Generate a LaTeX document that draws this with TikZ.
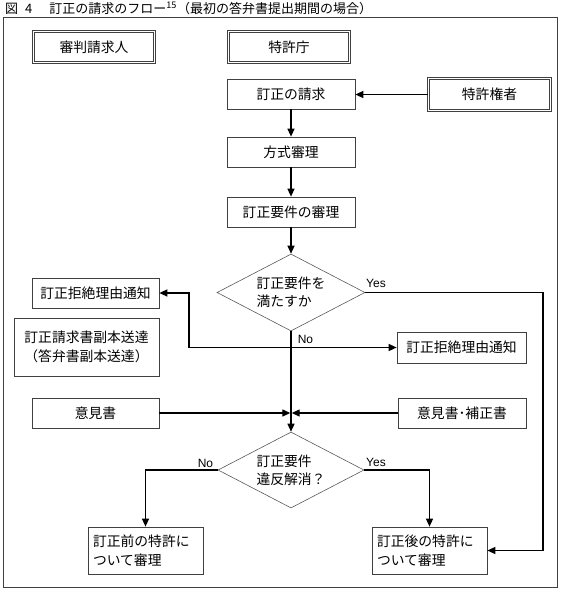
\documentclass[tikz,border=0pt]{standalone}
\usepackage{fontspec}
\setmainfont{Noto Sans CJK JP}
\newfontfamily\latinfont{Liberation Sans}
\usetikzlibrary{shapes.geometric,arrows.meta}
\begin{document}
\begin{tikzpicture}[x=1pt,y=-1pt,
  box/.style={draw=black!75, line width=0.7pt, rectangle, inner sep=0pt,
    font=\fontsize{13.8}{19}\selectfont, align=center},
  dbox/.style={box, double, double distance=1.6pt, line width=0.6pt},
  dia/.style={draw=black!65, line width=0.6pt, diamond, aspect=1.9, inner sep=0pt,
    minimum width=148pt, minimum height=77pt,
    font=\fontsize{13.8}{18}\selectfont, align=left},
  arr/.style={line width=1.3pt, -{Triangle[length=8pt,width=7pt]}},
  lbl/.style={font=\latinfont\fontsize{12}{14}\selectfont, inner sep=0pt}]
\useasboundingbox (0,0) rectangle (561,597);
% title
\node[anchor=base west, font=\fontsize{13}{15}\selectfont, inner sep=0pt] (title) at (5,13)
  {図\hspace{7pt}4\hspace{4pt}　訂正の請求のフロー\textsuperscript{15}（最初の答弁書提出期間の場合）};
% frame
\draw[draw=black!75, line width=0.9pt] (3,17) rectangle (557,587);
% header boxes
\node[dbox, minimum width=121.2pt, minimum height=31.2pt] (shinpan) at (94,47) {審判請求人};
\node[dbox, minimum width=121.2pt, minimum height=31.2pt] (chou) at (289,47) {特許庁};
\node[dbox, minimum width=122.2pt, minimum height=32.2pt] (kenri) at (489.5,94.5) {特許権者};
% main chain
\node[box, minimum width=128pt, minimum height=30pt] (teisei) at (291,94) {訂正の請求};
\node[box, minimum width=128pt, minimum height=30pt] (hoshiki) at (291,152) {方式審理};
\node[box, minimum width=128pt, minimum height=30pt] (yoken) at (291,212) {訂正要件の審理};
\node[dia] (d1) at (291,292.5) {訂正要件を\\満たすか};
% side boxes
\node[box, minimum width=127pt, minimum height=30pt] (rejL) at (95.5,293) {訂正拒絶理由通知};
\node[box, minimum width=145pt, minimum height=58pt] (fuku) at (86.5,347) {訂正請求書副本送達\\（答弁書副本送達）};
\node[box, minimum width=129pt, minimum height=31pt] (rejR) at (461.5,347.5) {訂正拒絶理由通知};
\node[box, minimum width=127pt, minimum height=30pt] (iken) at (95.5,413) {意見書};
\node[box, minimum width=128pt, minimum height=30pt] (ikenH) at (462,413) {意見書･補正書};
\node[dia, minimum width=146pt, minimum height=76pt] (d2) at (291,470) {訂正要件\\違反解消？};
\node[box, minimum width=115pt, minimum height=47pt, text width=105pt, inner xsep=5pt, align=left] (before) at (145.5,550.5) {訂正前の特許に\\ついて審理};
\node[box, minimum width=115pt, minimum height=47pt, text width=105pt, inner xsep=5pt, align=left] (after) at (429.5,550.5) {訂正後の特許に\\ついて審理};
% junction coordinates
\coordinate (jn) at (291,347.5);
\coordinate (lx) at (189,347.5);
\coordinate (jm) at (291,413);
\coordinate (rx) at (543,550.5);
% connectors
\draw[arr] (kenri.west) -- (kenri.west -| teisei.east);
\draw[arr] (teisei) -- (hoshiki);
\draw[arr] (hoshiki) -- (yoken);
\draw[arr] (yoken) -- (d1);
\draw[arr] (d1.south) -- (d2.north);
\draw[arr] (jn) -- (rejR.west);
\draw[arr] (jn) -- (lx) |- (rejL.east);
\draw[arr] (iken.east) -- ([xshift=-0.7pt]jm);
\draw[arr] (ikenH.west) -- ([xshift=0.7pt]jm);
\draw[arr] (d2.west) -| (before.north);
\draw[arr] (d2.east) -| (after.north);
\draw[arr] (d1.east) -| (rx) -- (after.east);
% labels
\node[lbl] (y1) at (376,283) {Yes};
\node[lbl] (n1) at (305.5,339) {No};
\node[lbl] (n2) at (205.5,463) {No};
\node[lbl] (y2) at (376,462) {Yes};
\end{tikzpicture}
\end{document}
